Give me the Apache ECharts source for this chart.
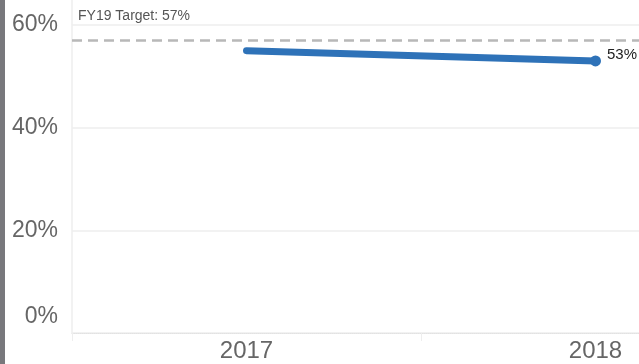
<!DOCTYPE html>
<html>
<head>
<meta charset="utf-8">
<script src="https://cdn.jsdelivr.net/npm/echarts@6/dist/echarts.min.js"></script>
<style>
  html, body { margin: 0; padding: 0; background: #fff; }
  #chart { width: 639px; height: 364px; }
</style>
</head>
<body>
<div id="chart"></div>
<script>
const years = ["2017", "2018"];
const shareValues = [55, 53];
const targetValue = 57;
const targetLabel = "FY19 Target: 57%";
const yTicks = [0, 20, 40, 60];

const chart = echarts.init(document.getElementById("chart"));
const font = "'Liberation Sans', Arial, sans-serif";

// 线只在最后一个点画圆点和标签
const lineData = shareValues.map((v, i) => ({
    value: v,
    symbol: i === shareValues.length - 1 ? "circle" : "none",
    label: { show: i === shareValues.length - 1 }
}));

const option = {
    animation: false,
    grid: { left: 72, top: 25, bottom: 31, width: 698, containLabel: false, outerBoundsMode: "none" },
    graphic: [
        { type: "rect", shape: { x: 0, y: 0, width: 5, height: 364 }, style: { fill: "#78787c" } },
        { type: "line", shape: { x1: 72, y1: 0, x2: 72, y2: 25 }, style: { stroke: "#eeeeee", lineWidth: 1.5 } }
    ],
    xAxis: {
        type: "category",
        data: years,
        boundaryGap: true,
        axisLine: { show: true, lineStyle: { color: "#e2e2e2", type: "dotted", width: 1 } },
        axisTick: { show: true, length: 8, lineStyle: { color: "#eeeeee" } },
        axisLabel: { color: "#666", fontSize: 24, fontFamily: font, margin: 6 },
        splitLine: { show: false }
    },
    yAxis: {
        type: "value",
        min: yTicks[0],
        max: yTicks[yTicks.length - 1],
        interval: 20,
        axisLine: { show: true, lineStyle: { color: "#eeeeee", width: 1.5 } },
        axisTick: { show: false },
        axisLabel: {
            color: "#666",
            fontSize: 23,
            fontFamily: font,
            margin: 14,
            verticalAlignMinLabel: "bottom",
            lineHeight: 32,
            formatter: v => v + "%"
        },
        splitLine: { show: true, lineStyle: { color: "#eeeeee", width: 1.5 } }
    },
    series: [
        {
            type: "line",
            data: lineData,
            symbolSize: 11,
            lineStyle: { color: "#2e72b8", width: 7, cap: "round" },
            itemStyle: { color: "#2e72b8" },
            label: {
                position: "right",
                distance: 6,
                offset: [0, -6],
                color: "#222",
                fontSize: 15,
                fontFamily: font,
                formatter: p => Math.round(p.value) + "%"
            },
            markLine: {
                silent: true,
                symbol: "none",
                lineStyle: { color: "#b8b8b8", type: [10, 6], width: 2.5 },
                label: {
                    show: true,
                    position: "insideStartTop",
                    formatter: targetLabel,
                    color: "#555",
                    fontSize: 14,
                    fontFamily: font,
                    distance: [6, 17]
                },
                data: [{ yAxis: targetValue }]
            }
        }
    ]
};

chart.setOption(option);
</script>
</body>
</html>
